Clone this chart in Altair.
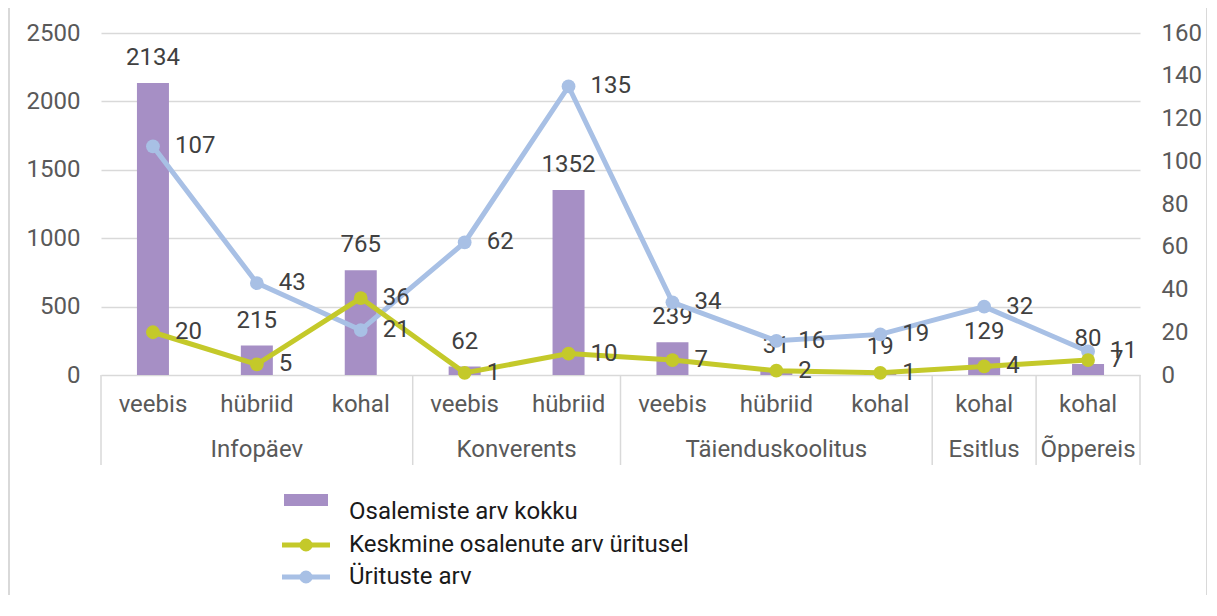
import altair as alt
import pandas as pd

# ---- data ----
groups = ["Infopäev", "Infopäev", "Infopäev", "Konverents", "Konverents",
          "Täienduskoolitus", "Täienduskoolitus", "Täienduskoolitus", "Esitlus", "Õppereis"]
subcats = ["veebis", "hübriid", "kohal", "veebis", "hübriid",
           "veebis", "hübriid", "kohal", "kohal", "kohal"]
osalemiste = [2134, 215, 765, 62, 1352, 239, 31, 19, 129, 80]
keskmine = [20, 5, 36, 1, 10, 7, 2, 1, 4, 7]
yrituste = [107, 43, 21, 62, 135, 34, 16, 19, 32, 11]

series_names = ["Osalemiste arv kokku", "Keskmine osalenute arv üritusel", "Ürituste arv"]
series_colors = ["#A68FC5", "#C4C92A", "#A8C0E5"]

left_ticks = [0, 500, 1000, 1500, 2000, 2500]
right_ticks = [0, 20, 40, 60, 80, 100, 120, 140, 160]

FONT = "Roboto"
FS = 24
AXIS_GRAY = "#595959"
LABEL_GRAY = "#404040"
GRID = "#d9d9d9"
W, H = 1039, 342

n = len(subcats)
df = pd.DataFrame({
    "pos": [i + 0.5 for i in range(n)],
    "group": groups,
    "sub": subcats,
    "osalemiste": osalemiste,
    "keskmine": keskmine,
    "yrituste": yrituste,
})

# group spans
spans = []
start = 0
for i in range(1, n + 1):
    if i == n or groups[i] != groups[start]:
        spans.append((groups[start], start, i))
        start = i
gdf = pd.DataFrame({
    "group": [s[0] for s in spans],
    "mid": [(s[1] + s[2]) / 2 for s in spans],
})
bounds = sorted(set([s[1] for s in spans] + [s[2] for s in spans]))
bdf = pd.DataFrame({"b": bounds})

xscale = alt.Scale(domain=[0, n], nice=False, zero=False, padding=0)
x_main = alt.X("pos:Q", scale=xscale,
               axis=alt.Axis(labels=False, ticks=False, grid=False, title=None,
                             domainColor=GRID, domainWidth=1.5))
x_plain = alt.X("pos:Q", scale=xscale, axis=None)

lscale = alt.Scale(domain=[0, 2500], nice=False)
rscale = alt.Scale(domain=[0, 160], nice=False)

# ---- bars (left axis) ----
ybar = alt.Y("osalemiste:Q", scale=lscale,
             axis=alt.Axis(values=left_ticks, title=None, domain=False, ticks=False,
                           grid=True, gridColor=GRID, gridWidth=1.5, format="d",
                           labelColor=AXIS_GRAY, labelFontSize=FS, labelFont=FONT,
                           labelPadding=21, orient="left"))
bars = alt.Chart(df).mark_bar(size=32, color=series_colors[0]).encode(x=x_main, y=ybar)
bar_text = alt.Chart(df).mark_text(
    dy=-18, baseline="alphabetic", align="center", fontSize=FS, font=FONT, color=LABEL_GRAY
).encode(x=x_plain, y=alt.Y("osalemiste:Q", scale=lscale, axis=None), text="osalemiste:Q")

# ---- lines (right axis) ----
yax_right = alt.Axis(values=right_ticks, title=None, domain=False, ticks=False, grid=False,
                     labelColor=AXIS_GRAY, labelFontSize=FS, labelFont=FONT, format="d",
                     labelPadding=21, orient="right")


def line_layer(field, color, with_axis):
    y = alt.Y(f"{field}:Q", scale=rscale, axis=yax_right if with_axis else None)
    ln = alt.Chart(df).mark_line(
        color=color, strokeWidth=5,
        point=alt.OverlayMarkDef(filled=True, size=190, color=color, opacity=1)
    ).encode(x=x_plain, y=y)
    tx = alt.Chart(df).mark_text(
        dx=22, align="left", baseline="middle", fontSize=FS, font=FONT, color=LABEL_GRAY
    ).encode(x=x_plain, y=alt.Y(f"{field}:Q", scale=rscale, axis=None), text=f"{field}:Q")
    return ln, tx


blue_line, blue_text = line_layer("yrituste", series_colors[2], True)
green_line, green_text = line_layer("keskmine", series_colors[1], False)

# ---- category axis annotations ----
sep = alt.Chart(bdf).mark_rule(color=GRID, strokeWidth=1.5).encode(
    x=alt.X("b:Q", scale=xscale, axis=None), y=alt.value(H), y2=alt.value(H + 90))
sub_text = alt.Chart(df).mark_text(
    fontSize=FS, font=FONT, color=AXIS_GRAY, baseline="middle", align="center"
).encode(x=x_plain, y=alt.value(H + 30), text="sub:N")
grp_text = alt.Chart(gdf).mark_text(
    fontSize=FS, font=FONT, color=AXIS_GRAY, baseline="middle", align="center"
).encode(x=alt.X("mid:Q", scale=xscale, axis=None), y=alt.value(H + 75), text="group:N")

# ---- legend (manual) ----
one = pd.DataFrame({"a": [0]})
leg_layers = []
leg_x0, leg_x1, leg_tx = 181, 229, 248
leg_y = [479, 512, 544]
for i, (name, color) in enumerate(zip(series_names, series_colors)):
    yy = leg_y[i]
    if i == 0:
        leg_layers.append(alt.Chart(one).mark_rect(color=color).encode(
            x=alt.value(leg_x0 + 2), x2=alt.value(leg_x1 - 2),
            y=alt.value(yy - 18), y2=alt.value(yy - 6)))
    else:
        leg_layers.append(alt.Chart(one).mark_rule(color=color, strokeWidth=5).encode(
            x=alt.value(leg_x0), x2=alt.value(leg_x1), y=alt.value(yy)))
        leg_layers.append(alt.Chart(one).mark_point(
            filled=True, size=170, color=color, opacity=1, shape="circle").encode(
            x=alt.value((leg_x0 + leg_x1) / 2), y=alt.value(yy)))
    leg_layers.append(alt.Chart(one).mark_text(
        text=name, align="left", baseline="middle", fontSize=FS, font=FONT, color="#1a1a1a"
    ).encode(x=alt.value(leg_tx), y=alt.value(yy)))

border = alt.Chart(one).mark_rect(fillOpacity=0, stroke=GRID, strokeWidth=2).encode(
    x=alt.value(-92), x2=alt.value(1106), y=alt.value(-40), y2=alt.value(700))

chart = alt.layer(
    border, bars, bar_text, blue_line, green_line, blue_text, green_text,
    sep, sub_text, grp_text, *leg_layers
).resolve_scale(y="independent").properties(
    width=W, height=H,
    padding={"left": 93, "top": 25, "right": 67, "bottom": 220},
    autosize=alt.AutoSizeParams(type="none"),
).configure_view(stroke=None)

chart.save("out.html", embed_options={"renderer": "svg", "actions": False})
